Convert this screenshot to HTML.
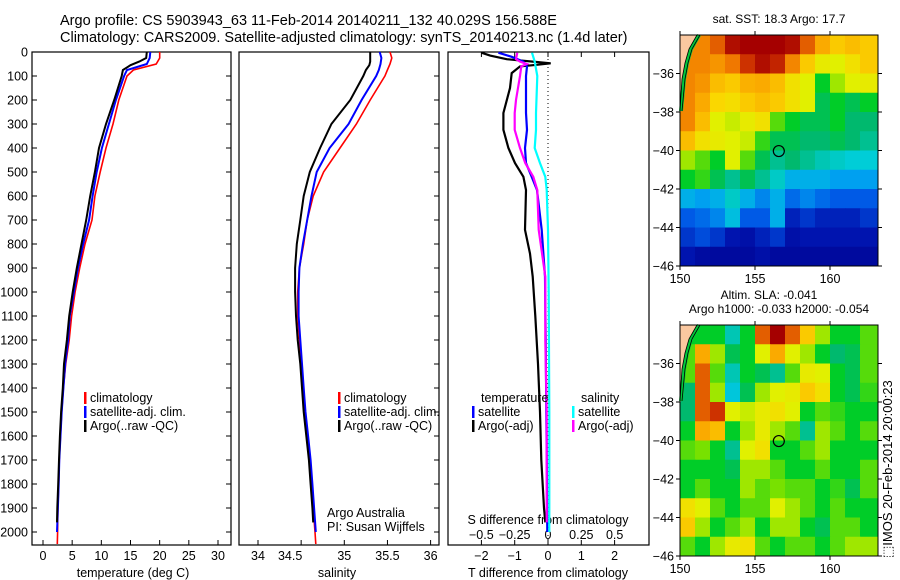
<!DOCTYPE html>
<html><head><meta charset="utf-8"><title>Argo profile</title>
<style>
html,body{margin:0;padding:0;background:#fff;}
svg{display:block;font-family:"Liberation Sans",sans-serif;}
text{fill:#000;}
</style></head>
<body>
<svg id="fig" width="900" height="580" viewBox="0 0 900 580" xmlns="http://www.w3.org/2000/svg">
<text x="60" y="25" font-size="14.5">Argo profile: CS 5903943_63 11-Feb-2014 20140211_132 40.029S 156.588E</text>
<text x="60" y="42" font-size="14.5">Climatology: CARS2009. Satellite-adjusted climatology: synTS_20140213.nc (1.4d later)</text>
<g id="g"></g>
<text x="0" y="0" font-size="13" transform="translate(892,558) rotate(-90)">&#x2B1A;IMOS 20-Feb-2014 20:00:23</text>
</svg>
<script>
// ---- profile data ----
const depthT=[0,25,50,75,100,200,300,400,500,600,700,800,900,1000,1100,1200,1300,1400,1500,1600,1700,1800,1900,2000,2050];
const depthSatT=[0,25,50,75,100,200,300,400,500,600,700,800,900,1000,1100,1200,1300,1400,1500,1600,1700,1800,1900,2000];
const depthArgo=[0,25,40,55,75,100,200,300,400,500,600,700,800,900,1000,1100,1200,1300,1400,1500,1600,1700,1800,1900,1960];
const tClim=[20.0,20.0,19.4,15.5,14.4,13.0,12.0,10.8,9.8,8.9,8.4,7.2,6.3,5.5,4.9,4.5,3.9,3.5,3.2,3.0,2.8,2.7,2.55,2.5,2.45];
const tSat=[18.4,18.3,17.8,14.4,13.9,12.5,11.3,10.1,9.2,8.5,7.9,6.9,6.0,5.3,4.6,4.3,3.8,3.5,3.2,3.0,2.8,2.7,2.55,2.4];
const tArgo=[17.8,17.7,16.5,15.0,13.7,13.5,12.2,10.8,9.6,8.9,8.1,7.4,6.6,5.8,5.1,4.5,4.1,3.6,3.4,3.1,2.9,2.75,2.6,2.45,2.4];
const sClim=[35.53,35.55,35.53,35.50,35.47,35.30,35.14,34.95,34.76,34.64,34.57,34.53,34.48,34.46,34.46,34.48,34.50,34.52,34.54,34.57,34.60,34.62,34.64,34.66,34.67];
const sSat=[35.41,35.43,35.42,35.40,35.37,35.20,35.05,34.83,34.68,34.62,34.57,34.52,34.48,34.47,34.47,34.49,34.51,34.53,34.55,34.58,34.61,34.63,34.65,34.67];
const sArgo=[35.30,35.30,35.30,35.29,35.25,35.22,35.07,34.85,34.72,34.60,34.53,34.49,34.45,34.43,34.43,34.44,34.46,34.49,34.51,34.53,34.56,34.59,34.61,34.63,34.64];
// difference panel
const dDepthTArgo=[3,15,30,42,47,53,60,88,150,254,324,400,463,520,575,741,840,936,1100,1300,1500,1700,1900,1960];
const dTArgo=[-2.0,-1.74,-1.24,-0.3,0.08,-0.3,-0.84,-1.09,-1.14,-1.34,-1.34,-1.19,-0.99,-0.74,-0.66,-0.69,-0.54,-0.46,-0.38,-0.3,-0.24,-0.2,-0.12,-0.08];
const dDepthTSat=[3,20,40,60,100,254,324,400,463,520,575,741,936,1200,1500,1800,2000];
const dTSat=[-1.49,-1.09,-0.74,-0.63,-0.66,-0.66,-0.63,-0.69,-0.66,-0.49,-0.33,-0.19,-0.09,-0.07,-0.05,-0.03,-0.02];
const dDepthSArgo=[3,30,40,50,60,100,200,254,324,400,463,520,575,741,936,1200,1500,1800,1960];
const dSArgo=[-0.23,-0.24,-0.21,-0.16,-0.2,-0.21,-0.24,-0.25,-0.25,-0.21,-0.17,-0.11,-0.08,-0.07,-0.02,-0.02,-0.01,-0.01,-0.01];
const dDepthSSat=[3,40,100,254,324,400,463,520,575,741,1000,1500,2000];
const dSSat=[-0.12,-0.10,-0.08,-0.09,-0.09,-0.1,-0.06,-0.02,-0.01,0.0,0.005,0.01,0.01];
// tick labels
const depthTicks=[0,100,200,300,400,500,600,700,800,900,1000,1100,1200,1300,1400,1500,1600,1700,1800,1900,2000];
const tempTicks=[0,5,10,15,20,25,30];
const salTicks=[34,34.5,35,35.5,36];
const dTTicks=[-2,-1,0,1,2];
const dSTicks=[-0.5,-0.25,0,0.25,0.5];
const dSTickLabels=['\u22120.5','\u22120.25','0','0.25','0.5'];
// map grids (rows lat -34..-46, cols lon 150..163), normalised colour value 0..1
const sstGrid=[
[0.8,0.8,0.85,0.95,0.97,0.97,0.97,0.95,0.85,0.75,0.7,0.72,0.7],
[0.8,0.8,0.78,0.82,0.9,0.95,0.92,0.8,0.7,0.62,0.6,0.65,0.7],
[0.8,0.78,0.72,0.7,0.74,0.75,0.72,0.65,0.6,0.45,0.55,0.6,0.62],
[0.8,0.75,0.68,0.66,0.7,0.72,0.7,0.65,0.6,0.42,0.45,0.42,0.45],
[0.8,0.72,0.6,0.58,0.62,0.65,0.5,0.45,0.42,0.42,0.45,0.4,0.4],
[0.72,0.65,0.62,0.6,0.58,0.48,0.42,0.42,0.4,0.4,0.42,0.4,0.38],
[0.55,0.5,0.45,0.6,0.5,0.42,0.38,0.4,0.38,0.36,0.35,0.34,0.34],
[0.45,0.48,0.42,0.38,0.42,0.38,0.35,0.3,0.3,0.3,0.28,0.28,0.28],
[0.3,0.28,0.3,0.35,0.3,0.25,0.3,0.22,0.25,0.22,0.2,0.2,0.2],
[0.2,0.22,0.25,0.32,0.2,0.2,0.3,0.12,0.15,0.12,0.12,0.12,0.15],
[0.15,0.18,0.15,0.1,0.08,0.12,0.15,0.08,0.1,0.1,0.1,0.1,0.1],
[0.1,0.06,0.05,0.05,0.05,0.08,0.05,0.05,0.05,0.05,0.05,0.05,0.05]];
const slaGrid=[
[0.45,0.45,0.45,0.36,0.45,0.85,0.97,0.85,0.7,0.55,0.45,0.45,0.5],
[0.5,0.75,0.55,0.42,0.45,0.6,0.75,0.6,0.55,0.45,0.4,0.42,0.5],
[0.5,0.85,0.5,0.36,0.45,0.42,0.38,0.5,0.62,0.6,0.45,0.42,0.5],
[0.4,0.85,0.55,0.33,0.42,0.55,0.6,0.62,0.7,0.65,0.45,0.42,0.48],
[0.4,0.85,0.9,0.6,0.58,0.62,0.65,0.6,0.45,0.5,0.48,0.45,0.45],
[0.45,0.75,0.72,0.45,0.55,0.62,0.55,0.5,0.38,0.55,0.5,0.45,0.5],
[0.5,0.52,0.45,0.38,0.6,0.65,0.45,0.45,0.5,0.55,0.45,0.45,0.45],
[0.45,0.45,0.45,0.42,0.55,0.55,0.5,0.45,0.45,0.5,0.45,0.45,0.5],
[0.45,0.5,0.45,0.45,0.55,0.5,0.52,0.5,0.5,0.45,0.48,0.42,0.5],
[0.65,0.6,0.5,0.45,0.5,0.5,0.6,0.55,0.5,0.45,0.5,0.45,0.45],
[0.7,0.55,0.45,0.5,0.55,0.45,0.55,0.55,0.45,0.42,0.5,0.5,0.45],
[0.5,0.45,0.55,0.62,0.65,0.5,0.45,0.5,0.5,0.45,0.5,0.55,0.55]];
const lonTicks=[150,155,160];
const latTicks=[-36,-38,-40,-42,-44,-46];
const argoLon=156.588, argoLat=-40.029;

const NS='http://www.w3.org/2000/svg';
const G=document.getElementById('g');
function mk(tag,attrs,parent){const e=document.createElementNS(NS,tag);for(const k in attrs)e.setAttribute(k,attrs[k]);(parent||G).appendChild(e);return e;}
function txt(s,x,y,fs,anchor,parent){const e=mk('text',{x:x,y:y,'font-size':fs,'text-anchor':anchor||'start'},parent);e.textContent=s;return e;}

const yD=d=>52+d*0.24;
const xT=t=>43+t*5.833;
const xS=s=>258+(s-34)*86.3;
const xDT=t=>548+t*33.3;
const xDS=s=>548+s*133.3;

function line(xs,ds,fx,color,w,name){
  const pts=xs.map((v,i)=>fx(v).toFixed(1)+','+yD(ds[i]).toFixed(1)).join(' ');
  const p=mk('polyline',{points:pts,fill:'none',stroke:color,'stroke-width':w,'stroke-linejoin':'miter'});
  
  
}
function frame(x0,x1,name){
  const r=mk('rect',{x:x0,y:52,width:x1-x0,height:493,fill:'none',stroke:'#000','stroke-width':1.2});
  
  
}
// panel frames
frame(32,231,'temperature-panel');
frame(239,439,'salinity-panel');
frame(448,649,'difference-panel');
// depth ticks
depthTicks.forEach(d=>{
  mk('line',{x1:32,x2:37,y1:yD(d),y2:yD(d),stroke:'#000'});
  mk('line',{x1:226,x2:231,y1:yD(d),y2:yD(d),stroke:'#000'});
  mk('line',{x1:434,x2:439,y1:yD(d),y2:yD(d),stroke:'#000'});
  const t=txt(String(d),28,yD(d)+4.5,12.5,'end');
  
  
});
// temperature ticks
tempTicks.forEach(v=>{mk('line',{x1:xT(v),x2:xT(v),y1:540,y2:545,stroke:'#000'});
  const t=txt(String(v),xT(v),560,12.5,'middle');
  
  });
const tl1=txt('temperature (deg C)',133,577,12.5,'middle');


salTicks.forEach(v=>{mk('line',{x1:xS(v),x2:xS(v),y1:540,y2:545,stroke:'#000'});
  const t=txt(String(v),v===34.5?xS(v)-11:xS(v),560,12.5,'middle');
  
  });
const tl2=txt('salinity',337,577,12.5,'middle');


dTTicks.forEach(v=>{mk('line',{x1:xDT(v),x2:xDT(v),y1:540,y2:545,stroke:'#000'});
  mk('line',{x1:xDT(v),x2:xDT(v),y1:52,y2:57,stroke:'#000'});
  const t=txt(String(v).replace('-','\u2212'),xDT(v),560,12.5,'middle');
  
  });
dSTicks.forEach((v,i)=>{
  const t=txt(dSTickLabels[i],xDS(v),539,12.5,'middle');
  
  });
const tl3=txt('S difference from climatology',548,524,12.5,'middle');


const tl4=txt('T difference from climatology',548,577,12.5,'middle');


// zero dotted line
mk('line',{x1:xDT(0),x2:xDT(0),y1:55,y2:540,stroke:'#000','stroke-width':1,'stroke-dasharray':'1,3'});

// profiles
line(tClim,depthT,xT,'#f00',1.6,'temperature-climatology-line');
line(tSat,depthSatT,xT,'#00f',2,'temperature-satellite-line');
line(tArgo,depthArgo,xT,'#000',2,'temperature-argo-line');
line(sClim,depthT,xS,'#f00',1.6,'salinity-climatology-line');
line(sSat,depthSatT,xS,'#00f',2,'salinity-satellite-line');
line(sArgo,depthArgo,xS,'#000',2,'salinity-argo-line');
line(dTArgo,dDepthTArgo,xDT,'#000',2.2,'t-diff-argo-line');
line(dTSat,dDepthTSat,xDT,'#00f',2.2,'t-diff-satellite-line');
line(dSSat,dDepthSSat,xDS,'#0ff',2.2,'s-diff-satellite-line');
line(dSArgo,dDepthSArgo,xDS,'#f0f',2.2,'s-diff-argo-line');

// legends
function legend(x,y,color,label,name){
  const g=mk('g',{});
  
  
  mk('rect',{x:x,y:y-10,width:2.5,height:12,fill:color},g);
  txt(label,x+6,y,12.5,'start',g);
}
legend(84,402,'#f00','climatology','legend-t-climatology');
legend(84,416,'#00f','satellite-adj. clim.','legend-t-satellite');
legend(84,430,'#000','Argo(..raw -QC)','legend-t-argo');
legend(338,402,'#f00','climatology','legend-s-climatology');
legend(338,416,'#00f','satellite-adj. clim.','legend-s-satellite');
legend(338,430,'#000','Argo(..raw -QC)','legend-s-argo');
const lt=txt('temperature',481,402,12.5);


const ls=txt('salinity',581,402,12.5);


legend(472,416,'#00f','satellite','legend-dt-satellite');
legend(472,430,'#000','Argo(-adj)','legend-dt-argo');
legend(572,416,'#0ff','satellite','legend-ds-satellite');
legend(572,430,'#f0f','Argo(-adj)','legend-ds-argo');
const cr1=txt('Argo Australia',327,517,12.5);


const cr2=txt('PI: Susan Wijffels',327,531,12.5);



// colour map
const cStops=[[0,[0,0,140]],[0.1,[0,20,175]],[0.2,[0,90,230]],[0.28,[0,160,240]],[0.34,[0,205,215]],[0.4,[0,185,110]],[0.45,[0,205,40]],[0.52,[120,225,0]],[0.6,[225,240,0]],[0.68,[250,215,0]],[0.75,[250,170,0]],[0.82,[240,120,0]],[0.9,[205,50,0]],[0.97,[165,0,0]],[1,[150,0,0]]];
function cmap(v){for(let i=1;i<cStops.length;i++){if(v<=cStops[i][0]){const a=cStops[i-1],b=cStops[i];const f=(v-a[0])/(b[0]-a[0]);return 'rgb('+a[1].map((c,k)=>Math.round(c+(b[1][k]-c)*f)).join(',')+')';}}return 'rgb(150,0,0)';}

function drawMap(top,grid,name,titles){
  const x0=680,x1=878,y1=top+231;
  const lx=lon=>x0+(lon-150)*15;
  const ly=lat=>top+(-34-lat)*19.25;
  const g=mk('g',{});
  
  
  grid.forEach((row,r)=>row.forEach((v,c)=>{
    const cx=lx(150+c), w=(c===row.length-1)?(x1-cx):15.5;
    const cell=mk('rect',{x:cx,y:ly(-34-r),width:w,height:19.75,fill:cmap(v)},g);
    
    
  }));
  // land
  const land=mk('polygon',{points:`${x0},${top} ${x0+19},${top} ${x0+11},${top+14} ${x0+7},${top+28} ${x0+4},${top+44} ${x0+1},${top+76} ${x0},${top+78}`,fill:'rgb(250,200,160)',stroke:'none'},g);
  
  
  mk('polyline',{points:`${x0+19},${top} ${x0+11},${top+14} ${x0+7},${top+28} ${x0+4},${top+44} ${x0+1},${top+76}`,fill:'none',stroke:'rgb(0,200,60)','stroke-width':4},g);
  mk('polyline',{points:`${x0+20},${top} ${x0+12},${top+14} ${x0+8},${top+28} ${x0+5},${top+44} ${x0+2},${top+76}`,fill:'none',stroke:'#000','stroke-width':0.8},g);
  mk('polyline',{points:`${x0+17},${top} ${x0+9},${top+14} ${x0+5},${top+28} ${x0+2},${top+44} ${x0},${top+76}`,fill:'none',stroke:'#000','stroke-width':0.8},g);
  const m=mk('circle',{cx:lx(argoLon),cy:ly(argoLat),r:5.5,fill:'none',stroke:'#000','stroke-width':1.2},g);
  
  
  mk('rect',{x:x0,y:top,width:x1-x0,height:231,fill:'none',stroke:'#000','stroke-width':1},g);
  lonTicks.forEach(l=>{mk('line',{x1:lx(l),x2:lx(l),y1:y1,y2:y1+4,stroke:'#000'},g);mk('line',{x1:lx(l),x2:lx(l),y1:top,y2:top-4,stroke:'#000'},g);
    const t=txt(String(l),lx(l),y1+17,12.5,'middle',g);
    
    });
  latTicks.forEach(l=>{mk('line',{x1:x0,x2:x0-4,y1:ly(l),y2:ly(l),stroke:'#000'},g);mk('line',{x1:x1,x2:x1+4,y1:ly(l),y2:ly(l),stroke:'#000'},g);
    const t=txt(String(l).replace('-','\u2212'),x0-6,ly(l)+4.5,12.5,'end',g);
    
    });
  titles.forEach((s,i)=>{const t=txt(s,x0+(x1-x0)/2+(titles.length>1&&i===0?-10:0),top-26+(titles.length>1?i*14:14)-(titles.length>1?0:0),12,'middle',g);
    
    });
}
drawMap(35,sstGrid,'sst-map',['sat. SST: 18.3 Argo: 17.7']);
drawMap(325,slaGrid,'sla-map',['Altim. SLA: -0.041','Argo h1000: -0.033 h2000: -0.054']);
</script>
</body></html>
